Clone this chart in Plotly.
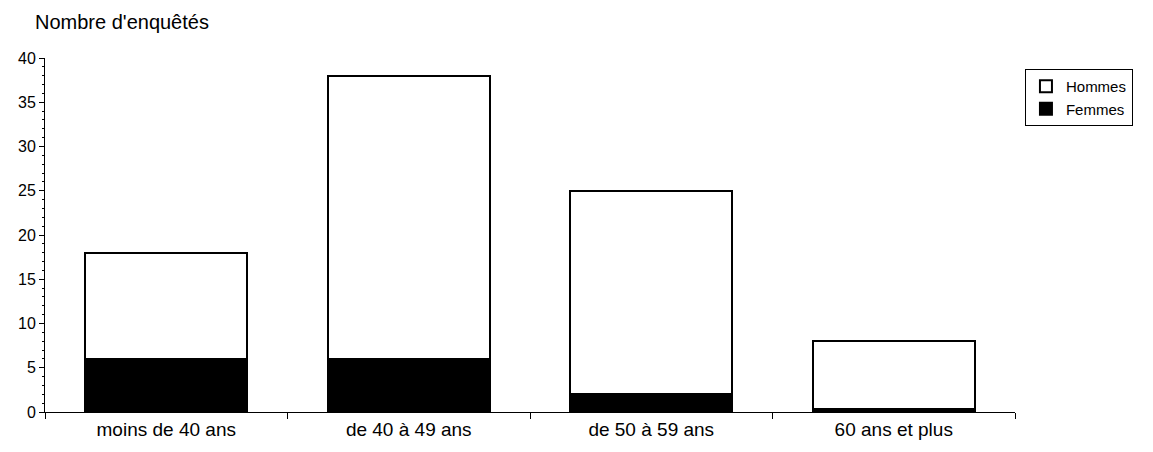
import plotly.graph_objects as go

categories = ["moins de 40 ans", "de 40 à 49 ans", "de 50 à 59 ans", "60 ans et plus"]
femmes = [6, 6, 2, 0.3]
hommes = [12, 32, 23, 7.7]
y_ticks = [0, 5, 10, 15, 20, 25, 30, 35, 40]

font = dict(family="Liberation Sans, Arial, sans-serif", size=16, color="black")

fig = go.Figure()
fig.add_trace(go.Bar(x=categories, y=femmes, name="Femmes",
                     marker=dict(color="black", line=dict(color="black", width=2))))
fig.add_trace(go.Bar(x=categories, y=hommes, name="Hommes",
                     marker=dict(color="white", line=dict(color="black", width=2))))

fig.update_layout(
    width=1137, height=436,
    barmode="stack", bargap=0.33,
    plot_bgcolor="white", paper_bgcolor="white",
    font=font,
    margin=dict(l=37, r=130, t=50, b=32),
    showlegend=True,
    legend=dict(x=1.1216, y=0.969, xanchor="right", yanchor="top",
                bordercolor="black", borderwidth=1, traceorder="reversed",
                font=dict(size=15), itemwidth=30, tracegroupgap=0),
    annotations=[dict(text="Nombre d'enquêtés", xref="paper", yref="paper",
                      x=-0.012, y=1.065, xanchor="left", yanchor="bottom",
                      showarrow=False, font=dict(size=20))],
)
fig.update_xaxes(showline=True, linecolor="black", linewidth=1,
                 ticks="outside", tickson="boundaries", ticklen=6, tickcolor="black",
                 range=[-0.5, 3.5], showgrid=False, tickfont=dict(size=19),
                 automargin=False)
fig.update_yaxes(showline=True, linecolor="black", linewidth=1,
                 ticks="outside", ticklen=5, tickcolor="black",
                 tickvals=y_ticks, range=[0, 40], showgrid=False, zeroline=False,
                 tickfont=dict(size=16), automargin=False,
                 minor=dict(dtick=1, ticks="outside", ticklen=2, tickcolor="black"))

fig.write_html("out.html")
